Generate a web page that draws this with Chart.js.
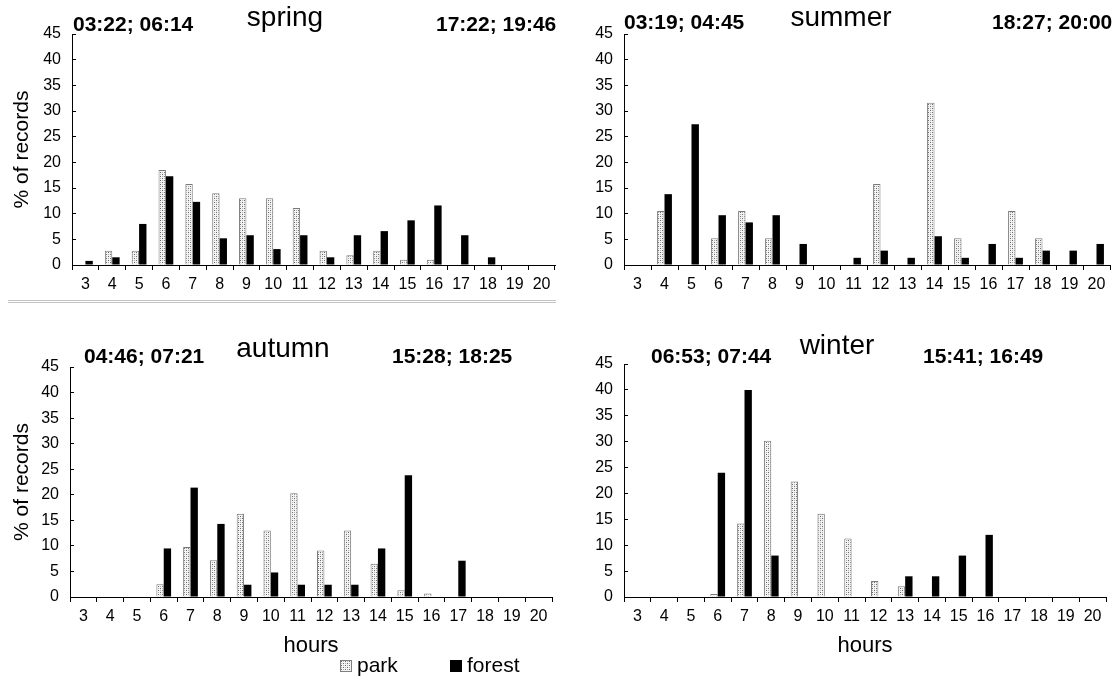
<!DOCTYPE html>
<html>
<head>
<meta charset="utf-8">
<script src="https://cdn.jsdelivr.net/npm/chart.js@4.4.1/dist/chart.umd.min.js"></script>
<style>
  html, body { margin:0; padding:0; background:#fff; width:1120px; height:680px; overflow:hidden;
    font-family:"Liberation Sans", Arial, sans-serif; color:#000; }
  .cv { position:absolute; }
  .t { position:absolute; white-space:nowrap; line-height:1; }
  .season { font-size:28px; transform:translateX(-50%); }
  .tm { font-size:21px; font-weight:bold; }
  .sep { position:absolute; left:8px; width:548px; top:300px; height:1px;
    border-top:1px solid #c4c4c4; border-bottom:1px solid #c4c4c4; }
  .sw { position:absolute; width:10px; height:10px; }
  .leg { font-size:21px; }
</style>
</head>
<body>
<canvas id="c0" class="cv"></canvas>
<canvas id="c1" class="cv"></canvas>
<canvas id="c2" class="cv"></canvas>
<canvas id="c3" class="cv"></canvas>
<div class="sep"></div>
<div id="texts"></div>
<div class="sw" id="swPark" style="left:340px;top:660px;border:1px solid #7f7f7f;"></div>
<div class="t leg" style="left:357px;top:654px;">park</div>
<div class="sw" style="left:450px;top:660px;border:1px solid #000;background:#000;"></div>
<div class="t leg" style="left:467px;top:654px;">forest</div>
<script>
// ---------- data ----------
const hours = ['3','4','5','6','7','8','9','10','11','12','13','14','15','16','17','18','19','20'];
const seriesNames = ['park', 'forest'];
const seasons = ['spring', 'summer', 'autumn', 'winter'];
const morningTimes = ['03:22; 06:14', '03:19; 04:45', '04:46; 07:21', '06:53; 07:44'];
const eveningTimes = ['17:22; 19:46', '18:27; 20:00', '15:28; 18:25', '15:41; 16:49'];
const yTicksMax = 45;
const yTickStep = 5;

const springPark   = [0, 2.8, 2.8, 18.5, 15.8, 14.0, 13.0, 13.0, 11.1, 2.8, 1.9, 2.8, 1.0, 1.0, 0, 0, 0, 0];
const springForest = [0.8, 1.5, 8.0, 17.3, 12.3, 5.2, 5.8, 3.1, 5.8, 1.5, 5.8, 6.6, 8.7, 11.6, 5.8, 1.5, 0, 0];
const summerPark   = [0, 10.5, 0, 5.2, 10.5, 5.2, 0, 0, 0, 15.8, 0, 31.6, 5.2, 0, 10.5, 5.2, 0, 0];
const summerForest = [0, 13.8, 27.4, 9.7, 8.3, 9.7, 4.1, 0, 1.4, 2.8, 1.4, 5.6, 1.4, 4.1, 1.4, 2.8, 2.8, 4.1];
const autumnPark   = [0, 0, 0, 2.5, 9.8, 7.2, 16.3, 13.0, 20.3, 9.1, 13.0, 6.5, 1.3, 0.7, 0, 0, 0, 0];
const autumnForest = [0, 0, 0, 9.5, 21.4, 14.3, 2.4, 4.8, 2.4, 2.4, 2.4, 9.5, 23.8, 0, 7.1, 0, 0, 0];
const winterPark   = [0, 0, 0, 0.6, 14.2, 30.2, 22.3, 16.1, 11.3, 3.1, 2.1, 0, 0, 0, 0, 0, 0, 0];
const winterForest = [0, 0, 0, 24.0, 40.0, 8.0, 0, 0, 0, 0, 4.0, 4.0, 8.0, 12.0, 0, 0, 0, 0];

// ---------- layout (positions only) ----------
const FONT = '"Liberation Sans", Arial, sans-serif';
const panels = [
  { park: springPark, forest: springForest, left: 0,   top: 0,   w: 560, h: 300, yW: 72, xH: 30,
    pad: { top: 34, right: 5,  bottom: 5,  left: 0 }, yTitle: true,  xTitle: false },
  { park: summerPark, forest: summerForest, left: 560, top: 0,   w: 560, h: 300, yW: 64, xH: 30,
    pad: { top: 34, right: 10, bottom: 5,  left: 0 }, yTitle: false, xTitle: false },
  { park: autumnPark, forest: autumnForest, left: 0,   top: 300, w: 560, h: 380, yW: 70, xH: 64,
    pad: { top: 67, right: 8,  bottom: 19, left: 0 }, yTitle: true,  xTitle: true },
  { park: winterPark, forest: winterForest, left: 560, top: 300, w: 560, h: 380, yW: 64, xH: 64,
    pad: { top: 64, right: 14, bottom: 19, left: 0 }, yTitle: false, xTitle: true }
];
const textPos = [
  { cx: 285, sTop: 3,   mL: 73,  eL: 436, tTop: 13 },
  { cx: 841, sTop: 3,   mL: 624, eL: 992, tTop: 11 },
  { cx: 283, sTop: 334, mL: 84,  eL: 392, tTop: 345 },
  { cx: 837, sTop: 331, mL: 651, eL: 923, tTop: 345 }
];

function makeTile() {
  const c = document.createElement('canvas');
  c.width = 4; c.height = 4;
  const g = c.getContext('2d');
  g.fillStyle = '#f4f4f4'; g.fillRect(0, 0, 4, 4);
  g.fillStyle = '#6a6a6a'; g.fillRect(0, 0, 1, 1); g.fillRect(2, 2, 1, 1);
  g.fillStyle = '#b0b0b0'; g.fillRect(2, 0, 1, 1); g.fillRect(0, 2, 1, 1);
  return c;
}
const tile = makeTile();
document.getElementById('swPark').style.backgroundImage = 'url(' + tile.toDataURL() + ')';

Chart.defaults.color = '#000';
Chart.defaults.font.family = FONT;

const texts = document.getElementById('texts');
seasons.forEach((s, i) => {
  const p = textPos[i];
  texts.insertAdjacentHTML('beforeend',
    `<div class="t season" style="left:${p.cx}px;top:${p.sTop}px">${s}</div>` +
    `<div class="t tm" style="left:${p.mL}px;top:${p.tTop}px">${morningTimes[i]}</div>` +
    `<div class="t tm" style="left:${p.eL}px;top:${p.tTop}px">${eveningTimes[i]}</div>`);
});

panels.forEach((p, i) => {
  const cv = document.getElementById('c' + i);
  cv.width = p.w; cv.height = p.h;
  cv.style.left = p.left + 'px'; cv.style.top = p.top + 'px';
  cv.style.width = p.w + 'px'; cv.style.height = p.h + 'px';
  const ctx = cv.getContext('2d');
  const pattern = ctx.createPattern(tile, 'repeat');
  new Chart(ctx, {
    type: 'bar',
    data: {
      labels: hours,
      datasets: [
        { label: seriesNames[0], data: p.park, backgroundColor: pattern, borderColor: '#7a7a7a',
          borderWidth: 1, borderSkipped: 'bottom', barPercentage: 1, categoryPercentage: 0.55 },
        { label: seriesNames[1], data: p.forest, backgroundColor: '#000', borderWidth: 0,
          barPercentage: 1, categoryPercentage: 0.55 }
      ]
    },
    options: {
      responsive: false,
      animation: false,
      devicePixelRatio: 1,
      layout: { padding: p.pad },
      plugins: { legend: { display: false }, tooltip: { enabled: false }, title: { display: false } },
      scales: {
        x: {
          grid: { display: true, drawOnChartArea: false, drawTicks: true, tickLength: 5, color: '#000', offset: true },
          border: { display: true, color: '#000', width: 1 },
          ticks: { font: { size: 16 }, color: '#000', padding: 5, autoSkip: false, maxRotation: 0 },
          title: { display: p.xTitle, text: 'hours', font: { size: 22 }, color: '#000', padding: { top: 0, bottom: 2 } },
          afterFit: (s) => { s.height = p.xH; }
        },
        y: {
          min: 0, max: yTicksMax,
          grid: { display: true, drawOnChartArea: false, drawTicks: true, tickLength: -4, color: '#000' },
          border: { display: true, color: '#000', width: 1 },
          ticks: { stepSize: yTickStep, font: { size: 16 }, color: '#000', padding: 15 },
          title: { display: p.yTitle, text: '% of records', font: { size: 21 }, color: '#000', padding: { top: 10, bottom: 0 } },
          afterFit: (s) => { s.width = p.yW; }
        }
      }
    }
  });
});
</script>
</body>
</html>
